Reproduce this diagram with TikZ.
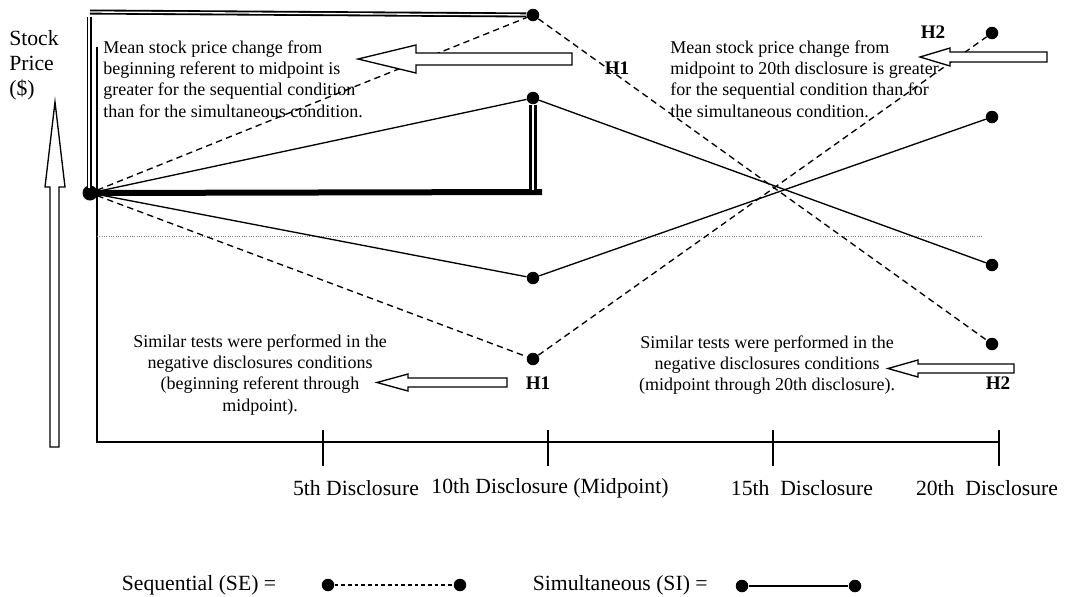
\documentclass[tikz,border=0pt]{standalone}
\usepackage{fontspec}
\setmainfont{Liberation Serif}
\usetikzlibrary{calc,positioning}

\begin{document}
\begin{tikzpicture}[x=0.6pt,y=-0.6pt,
    pricedot/.style={circle,fill=black,inner sep=0pt,minimum size=7.5pt},
    se/.style={thick,dash pattern=on 3.8pt off 2.6pt},
    si/.style={thick},
    hollow/.style={thick,fill=white},
    note/.style={inner sep=0pt,font=\fontsize{10.8}{12.8}\selectfont},
    hyp/.style={font=\fontsize{11.5}{13}\selectfont\bfseries},
    tick/.style={font=\fontsize{13}{15}\selectfont}]

    \useasboundingbox (0,0) rectangle (1065,596);

    %nodes

    \node [pricedot,minimum size=9pt] (o) at (90,193) {};

        \node [pricedot] (seT) at (533,15) {};
        \node [pricedot] (seB) at (533,359) {};
        \node [pricedot] (siT) at (533,98) {};
        \node [pricedot] (siB) at (533,278) {};

        \node [pricedot] (seE1) at (992,344) {};
        \node [pricedot] (seE2) at (992,33) {};
        \node [pricedot] (siE1) at (992,265) {};
        \node [pricedot] (siE2) at (992,117) {};

    %axes

    \coordinate (yTop) at (97,47);
    \coordinate (xO) at (97,442);
    \coordinate (xEnd) at (1000,442);
    \draw [thick] (yTop) -- (xO) -- (xEnd);
    \foreach \x/\n in {323/t5,548/t10,773/t15,999/t20}
        \draw [thick] (\x,430) -- (\x,466) coordinate (\n);
    \draw [densely dotted,line width=0.4pt,gray] (97,236) -- (983,236);

    \draw [thick,fill=white] (50,447) -- (50,187) -- (45,187) -- (55,102) -- (65,187) -- (59,187) -- (59,447) -- cycle;

    %bars

    \draw [double,line width=1.1pt,double distance=0.8pt] (90,12) -- (seT);
    \draw [double,line width=1.1pt,double distance=0.8pt] (89,17) -- (89,188);
    \draw [line width=3.6pt] (o) -- (542,192);
    \draw [double,line width=1.8pt,double distance=1.2pt] (siT) -- (533,190);

    %lines

        \draw [se] (o) -- (seT);
        \draw [se] (seT) -- (seE1);
        \draw [se] (o) -- (seB);
        \draw [se] (seB) -- (seE2);

        \draw [si] (o) -- (siT);
        \draw [si] (siT) -- (siE1);
        \draw [si] (o) -- (siB);
        \draw [si] (siB) -- (siE2);

    %hollow arrows

    \draw [hollow] (572,53) -- (416,53) -- (416,45) -- (358,59) -- (416,73) -- (416,65) -- (572,65) -- cycle;
    \draw [hollow] (1047,52) -- (950,52) -- (950,48) -- (920,57) -- (950,66) -- (950,62) -- (1047,62) -- cycle;
    \draw [hollow] (507,378) -- (408,378) -- (408,374) -- (377,382.5) -- (408,391) -- (408,387) -- (507,387) -- cycle;
    \draw [hollow] (1014,364) -- (918,364) -- (918,360) -- (888,368.5) -- (918,377) -- (918,373) -- (1014,373) -- cycle;

    %texts

        \node [note,anchor=north west,align=left] (noteA) at (103,40) {Mean stock price change from\\beginning referent to midpoint is\\greater for the sequential condition\\than for the simultaneous condition.};
        \node [note,anchor=north west,align=left] (noteB) at (670,40) {Mean stock price change from\\midpoint to 20th disclosure is greater\\for the sequential condition than for\\the simultaneous condition.};
        \node [note,anchor=north,align=center] (noteC) at (260,334) {Similar tests were performed in the\\negative disclosures conditions\\(beginning referent through\\midpoint).};
        \node [note,anchor=north,align=center] (noteD) at (767,335) {Similar tests were performed in the\\negative disclosures conditions\\(midpoint through 20th disclosure).};

        \node [hyp] (h1a) at (617,68) {H1};
        \node [hyp] (h2a) at (933,32) {H2};
        \node [hyp] (h1b) at (538,383) {H1};
        \node [hyp] (h2b) at (998,383) {H2};

        \node [tick,anchor=north west,align=left,inner sep=0pt] (ylab) at (9,30) {Stock\\Price\\(\$)};

        \node [tick] (l5) at (356,488) {5th Disclosure};
        \node [tick] (l10) at (550,488) {10th Disclosure (Midpoint)};
        \node [tick] (l15) at (802,488) {15th~~Disclosure};
        \node [tick] (l20) at (987,488) {20th~~Disclosure};

    %legend

        \node [tick,anchor=east] (seq) at (282,585) {Sequential (SE) =};
        \node [pricedot] (la) at (328,585) {};
        \node [pricedot] (lb) at (460,585) {};
        \draw [se,dash pattern=on 2.2pt off 1.8pt] (la) -- (lb);

        \node [tick,anchor=west] (sim) at (527,585) {Simultaneous (SI) =};
        \node [pricedot] (lc) at (742,586) {};
        \node [pricedot] (ld) at (855,586) {};
        \draw [si] (lc) -- (ld);
\end{tikzpicture}
\end{document}
